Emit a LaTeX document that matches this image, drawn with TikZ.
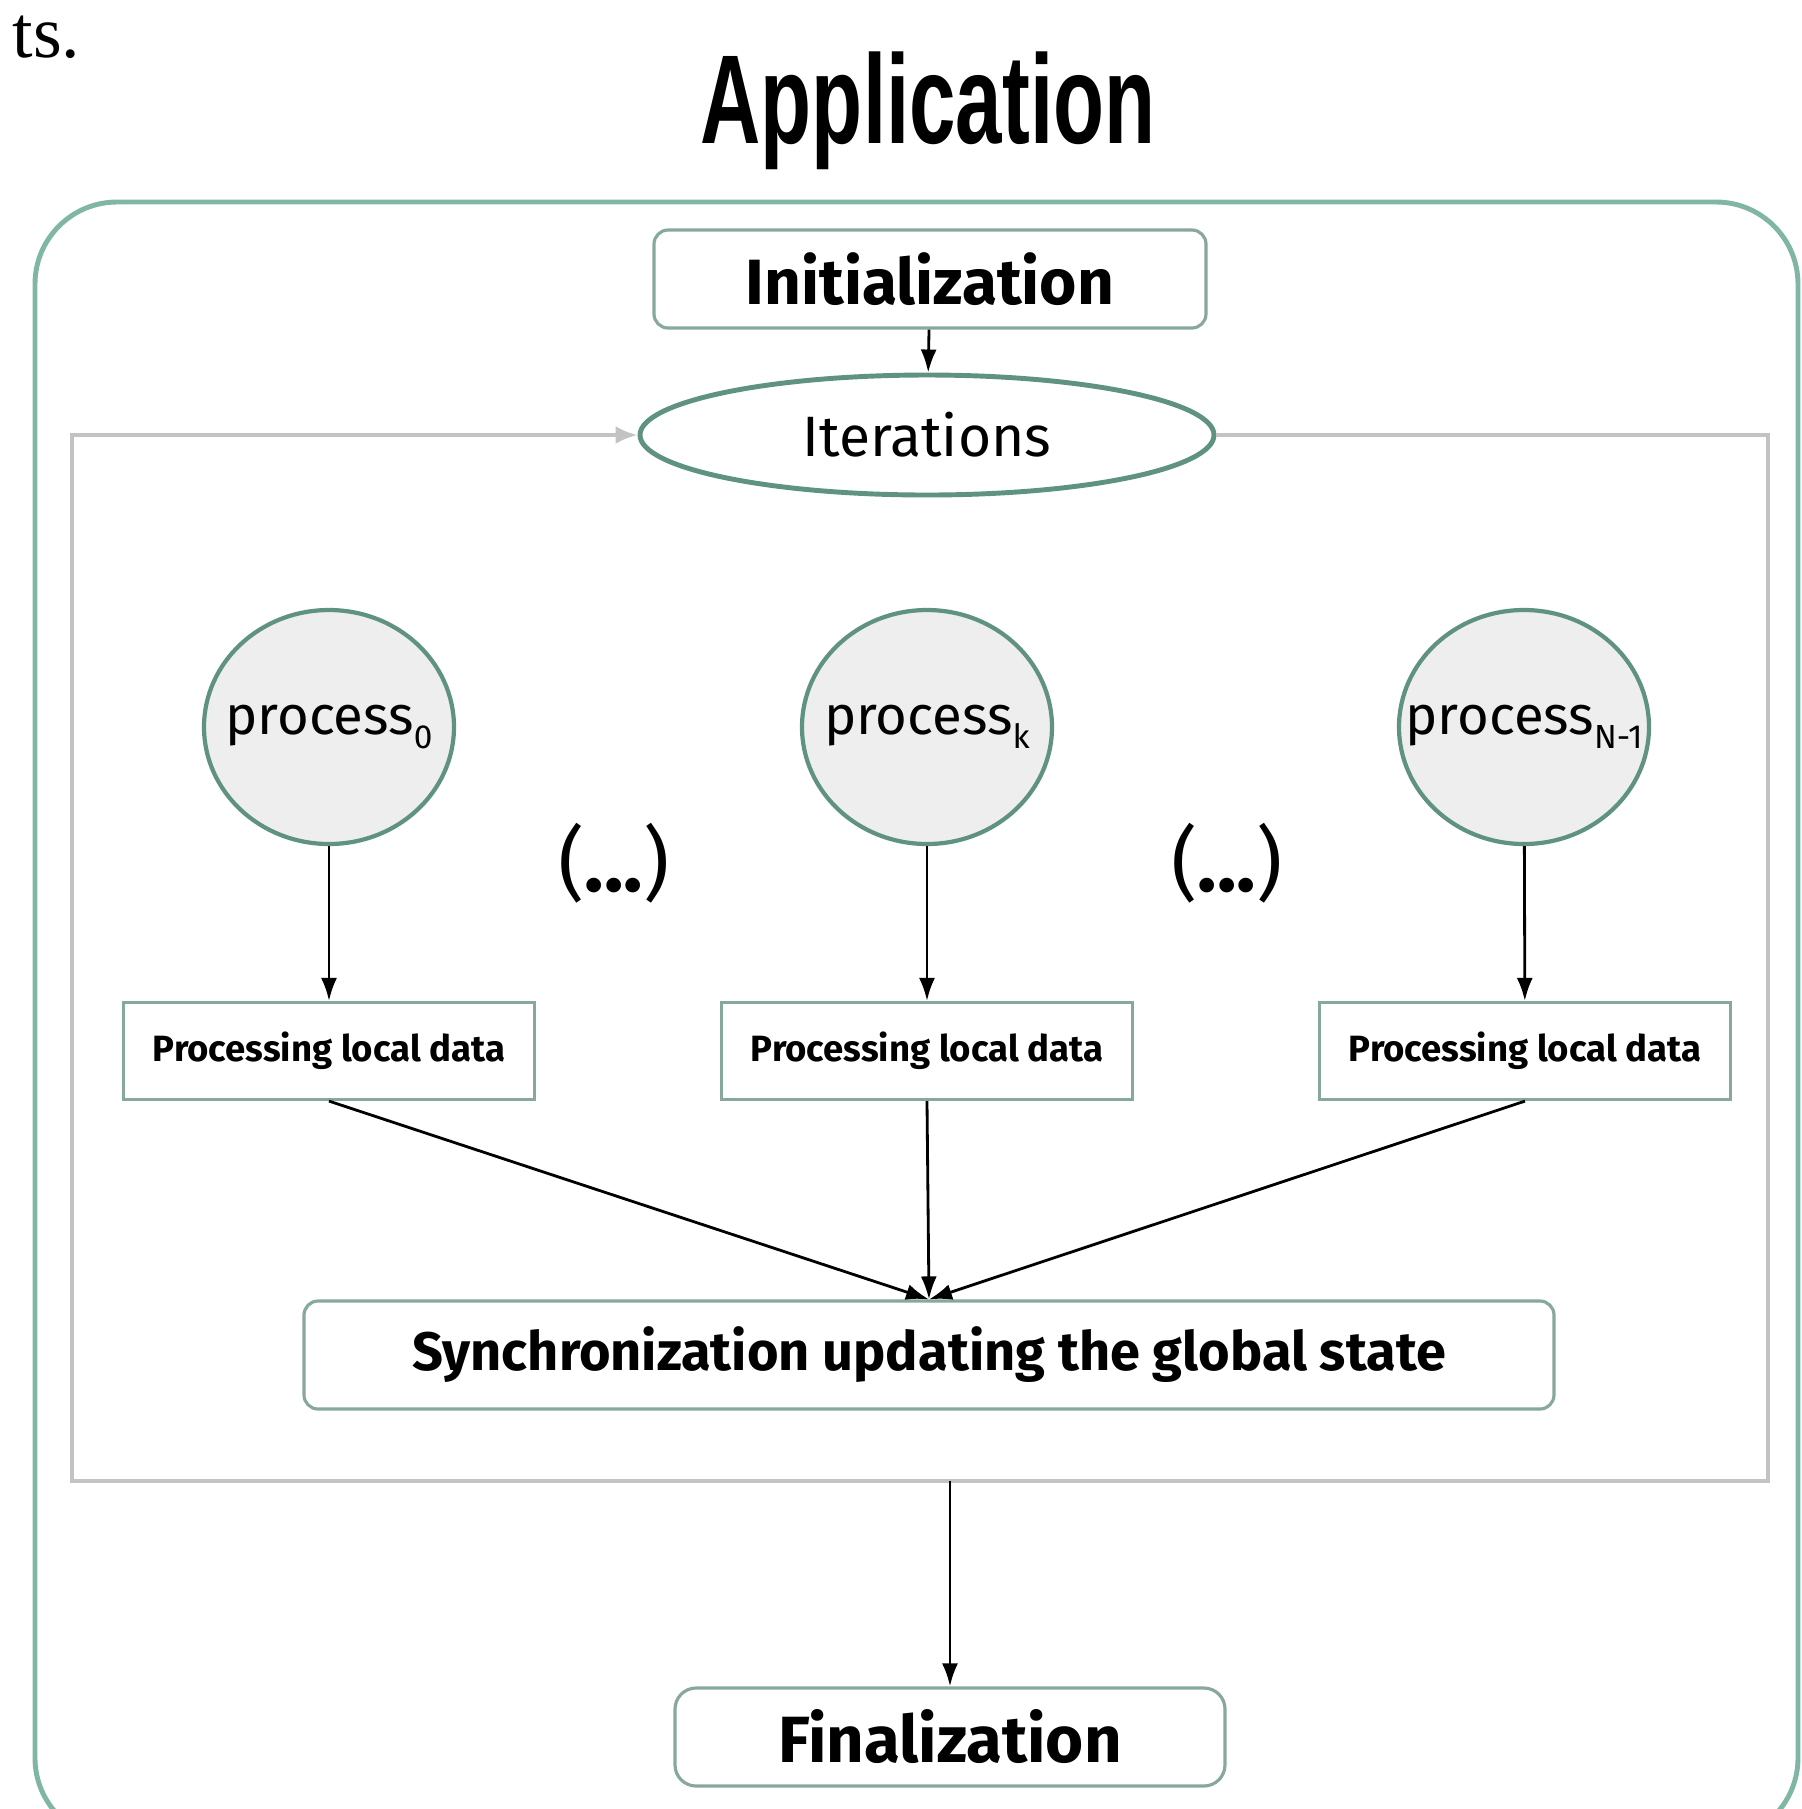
\documentclass[tikz,border=0pt]{standalone}
\usepackage{fontspec}
\setmainfont{Fira Sans}
\newfontfamily\titlefont[FakeStretch=0.66]{Liberation Sans}
\newfontfamily\pagefont{Liberation Serif}
\usetikzlibrary{arrows.meta,shapes.geometric}

\definecolor{framegreen}{RGB}{128,182,165}
\definecolor{rimgreen}{RGB}{96,146,129}
\definecolor{boxedge}{RGB}{135,168,157}
\definecolor{loopgray}{RGB}{195,195,195}
\definecolor{procfill}{RGB}{238,238,238}

\newcommand{\lowidx}[1]{\raisebox{-4pt}{\fontsize{9.5}{10}\selectfont #1}}

\tikzset{
    stagebox/.style={draw=boxedge, line width=0.9pt, rounded corners=4pt, fill=white, inner sep=0pt},
    procnode/.style={ellipse, draw=rimgreen, line width=1.2pt, fill=procfill, inner sep=0pt,
                     minimum width=2.50cm, minimum height=2.34cm},
    proclabel/.style={font=\fontsize{15.5}{17}\selectfont, inner sep=0pt},
    databox/.style={draw=boxedge, line width=0.9pt, fill=white, inner sep=0pt,
                    minimum width=4.11cm, minimum height=0.97cm, font=\bfseries\fontsize{10.4}{12}\selectfont},
    flow/.style={-{Latex[length=2.3mm,width=1.6mm]}, line width=0.8pt, black},
    loopline/.style={-{Latex[length=2.2mm,width=1.8mm]}, line width=1.1pt, loopgray}
}

\begin{document}
\begin{tikzpicture}
    \useasboundingbox (0,0) rectangle (18.02,-18.09);

    % leftover of the page text and the title
    \node[anchor=base west, inner sep=0pt, font=\pagefont\fontsize{21}{23}\selectfont] (pagetext) at (0.12,-0.57) {ts.};
    \node[anchor=base, inner sep=0pt, font=\titlefont\bfseries\fontsize{36}{40}\selectfont] (title) at (9.28,-1.43) {Application};

    % application frame
    \draw[framegreen, line width=1.4pt, rounded corners=0.82cm] (0.35,-2.02) rectangle (17.98,-18.40);

    \node[stagebox, minimum width=5.52cm, minimum height=0.98cm, font=\bfseries\fontsize{18.2}{20}\selectfont] (init) at (9.30,-2.79) {Initialization};
    \node[ellipse, draw=rimgreen, line width=1.4pt, fill=white, inner sep=0pt, minimum width=5.74cm, minimum height=1.20cm,
          font=\fontsize{16.2}{18}\selectfont] (iter) at (9.27,-4.35) {Iterations};
    \draw[flow] (init) -- (iter);

    % iteration loop
    \coordinate (loopne) at (17.68,-14.81);
    \coordinate (loopsw) at (0.72,-4.35);
    \draw[loopline] (iter.east) -| (loopne) -| (loopsw) -- (iter.west);

    \node[procnode, label={[proclabel]center:process\lowidx{0}}] (proc0) at (3.29,-7.27) {};
    \node[procnode, label={[proclabel]center:process\lowidx{k}}] (prock) at (9.27,-7.27) {};
    \node[procnode, label={[proclabel]center:process\lowidx{N-1}}] (procn) at (15.24,-7.27) {};

    \node[font=\fontsize{23}{26}\selectfont] (dotsl) at (6.14,-8.63) {(\textbf{...})};
    \node[font=\fontsize{23}{26}\selectfont] (dotsr) at (12.27,-8.63) {(\textbf{...})};

    \node[databox] (data0) at (3.29,-10.51) {Processing local data};
    \node[databox] (datak) at (9.27,-10.51) {Processing local data};
    \node[databox] (datan) at (15.25,-10.51) {Processing local data};

    \draw[flow] (proc0) -- (data0);
    \draw[flow] (prock) -- (datak);
    \draw[flow] (procn) -- (datan);

    \node[stagebox, minimum width=12.50cm, minimum height=1.08cm, font=\bfseries\fontsize{15.4}{17}\selectfont] (sync) at (9.29,-13.55) {Synchronization updating the global state};

    \draw[flow] (data0.south) -- (sync.north);
    \draw[flow] (datak.south) -- (sync.north);
    \draw[flow] (datan.south) -- (sync.north);

    \node[stagebox, rounded corners=6pt, minimum width=5.50cm, minimum height=0.98cm, font=\bfseries\fontsize{18.6}{20}\selectfont] (final) at (9.50,-17.37) {Finalization};
    \coordinate (loopout) at (9.50,-14.81);
    \draw[flow] (loopout) -- (final);
\end{tikzpicture}
\end{document}
